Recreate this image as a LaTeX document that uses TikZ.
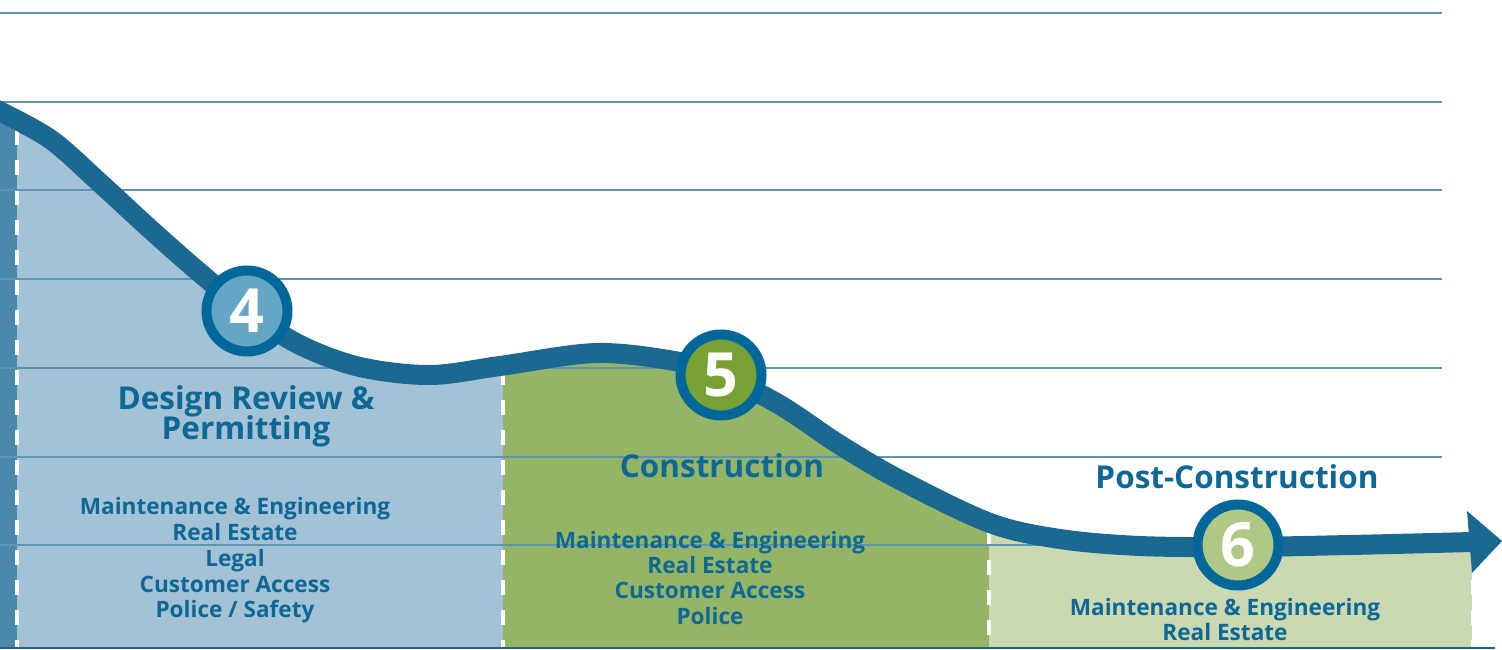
\documentclass[tikz,border=0pt]{standalone}
\usepackage{fontspec}
\setmainfont{Open Sans}
\definecolor{txtblue}{HTML}{0E6896}
\definecolor{curveblue}{HTML}{1B6891}
\definecolor{ringblue}{HTML}{00679A}
\definecolor{stripblue}{HTML}{4A89AB}
\definecolor{bluefill}{HTML}{A4C2D5}
\definecolor{greenfill}{HTML}{94B566}
\definecolor{ltgreen}{HTML}{CAD9B1}
\definecolor{gridblue}{HTML}{5E93B4}
\definecolor{inblue}{HTML}{64A6C4}
\definecolor{ingreen}{HTML}{77A233}
\definecolor{inltgreen}{HTML}{AFC886}
\begin{document}
\begin{tikzpicture}[x=1pt,y=-1pt,
  txt/.style={text=txtblue, font=\bfseries\fontsize{22.6}{26}\selectfont, anchor=base, inner sep=0pt},
  head/.style={txt, font=\bfseries\fontsize{31.5}{34}\selectfont},
  stage/.style={circle, draw=ringblue, line width=10pt, minimum size=81pt, inner sep=0pt, text=white, font=\bfseries\fontsize{61}{61}\selectfont},
  gridline/.style={gridblue, line width=1.5pt},
  dashline/.style={white, line width=4.5pt, dash pattern=on 15pt off 15pt},
  curveline/.style={curveblue, line width=20pt}]
\useasboundingbox (0,0) rectangle (1502,650);
% filled columns under the curve
\begin{scope}
\clip plot[smooth, tension=0.55] coordinates {(-5,109) (50,139) (100,183) (150,229) (200,273) (247,311) (300,345) (360,367) (430,375) (500,366) (597,353) (680,362) (721,375) (780,405) (840,445) (900,480) (990,523) (1060,539) (1140,546) (1238,547) (1350,545) (1472,542)} -- (1472,648) -- (-5,648) -- cycle;
\fill[stripblue] (-5,0) rectangle (17,648);
\fill[bluefill] (17,0) rectangle (503,648);
\fill[greenfill] (503,0) rectangle (989,648);
\fill[ltgreen] (989,0) rectangle (1473,648);
\draw[dashline] (17,100) -- (17,648);
\draw[dashline] (503,340) -- (503,648);
\draw[dashline] (989,500) -- (989,648);
\draw[dashline] (1473,520) -- (1473,648);
\end{scope}
% grid
\foreach \gy in {13,102,190,279,368,457,545} \draw[gridline] (0,\gy) -- (1442,\gy);
\draw[curveblue, line width=2.5pt] (0,648) -- (1495,648);
% curve and arrow
\draw[curveline] plot[smooth, tension=0.55] coordinates {(-5,109) (50,139) (100,183) (150,229) (200,273) (247,311) (300,345) (360,367) (430,375) (500,366) (597,353) (680,362) (721,375) (780,405) (840,445) (900,480) (990,523) (1060,539) (1140,546) (1238,547) (1350,545) (1472,542)};
\fill[curveblue] (1467,511) -- (1502,541) -- (1472,573) -- cycle;
% stage circles
\node[stage, fill=inblue] (c4) at (247,311) {4};
\node[stage, fill=ingreen] (c5) at (721,375) {5};
\node[stage, fill=inltgreen] (c6) at (1238,545) {6};
% headings
\node[head] (h4a) at (246,409) {Design Review \&};
\node[head] (h4b) at (246,439) {Permitting};
\node[head] (h5) at (722,477) {Construction};
\node[head] (h6) at (1237,488) {Post-Construction};
% lists
\node[txt] (a1) at (235,514) {Maintenance \& Engineering};
\node[txt] (a2) at (235,540) {Real Estate};
\node[txt] (a3) at (235,566) {Legal};
\node[txt] (a4) at (235,592) {Customer Access};
\node[txt] (a5) at (235,617) {Police / Safety};
\node[txt] (b1) at (710,548) {Maintenance \& Engineering};
\node[txt] (b2) at (710,573) {Real Estate};
\node[txt] (b3) at (710,598) {Customer Access};
\node[txt] (b4) at (710,624) {Police};
\node[txt] (d1) at (1225,615) {Maintenance \& Engineering};
\node[txt] (d2) at (1225,640) {Real Estate};
\end{tikzpicture}
\end{document}
